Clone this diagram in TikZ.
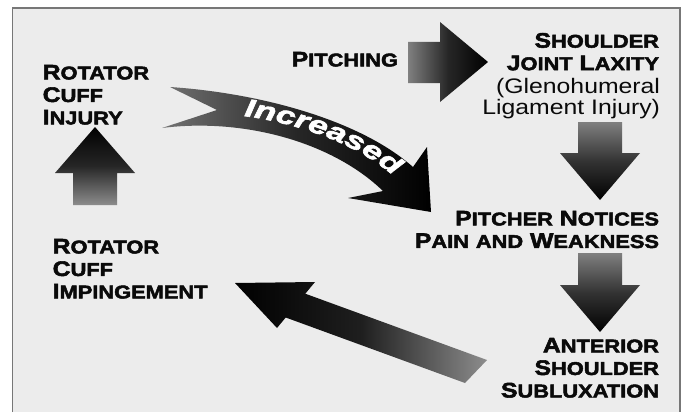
\documentclass[tikz,border=0pt]{standalone}
\usepackage{fontspec}
\usetikzlibrary{decorations.text}
\newfontfamily\blkfam[FakeBold=2.6,FakeStretch=1.18]{Liberation Sans Bold}
\newfontfamily\regfam[FakeStretch=1.18]{Liberation Sans}
\newfontfamily\incfam[FakeBold=2.4,FakeStretch=1.4]{Liberation Sans Bold Italic}
\newcommand\capsc[2]{{\fontsize{21}{22.5}\selectfont #1}{\fontsize{18.5}{22.5}\selectfont #2}}
\newcommand\incfont{\incfam\fontsize{25}{25}\selectfont}
\definecolor{bgc}{HTML}{ECECEC}
\definecolor{framec}{HTML}{777777}
\definecolor{inkc}{HTML}{0A0A0A}
\begin{document}
\begin{tikzpicture}[x=1pt,y=-1pt,
  lbl/.style={inner sep=0pt, outer sep=0pt, text=inkc, font=\blkfam\fontsize{21}{22.5}\selectfont},
  sub/.style={inner sep=0pt, outer sep=0pt, text=inkc, font=\regfam\fontsize{21}{21}\selectfont},
  blockv/.style={draw=none, top color=black!50, bottom color=black, middle color=black!80},
  blockup/.style={draw=none, top color=black, bottom color=black!45, middle color=black!85},
  blockh/.style={draw=none, left color=black!50, right color=black, middle color=black!85},
  blockd/.style={draw=none, left color=black, right color=black!45, middle color=black!88}]
\path[use as bounding box] (0,0) rectangle (684,412);
\fill[white] (0,0) rectangle (684,412);
\fill[bgc] (12.5,8) rectangle (680,412);
\draw[framec, line width=1.6pt] (12.5,412) -- (12.5,8) -- (680,8) -- (680,412);

% text blocks
\node[lbl, align=left, anchor=north west] (rci) at (42.7,65)
  {\capsc{R}{OTATOR}\\\capsc{C}{UFF}\\\capsc{I}{NJURY}};
\node[lbl, align=left, anchor=north west] (rcimp) at (52.7,239)
  {\capsc{R}{OTATOR}\\\capsc{C}{UFF}\\\capsc{I}{MPINGEMENT}};
\node[lbl, anchor=north east] (pitch) at (398,52) {\capsc{P}{ITCHING}};
\node[lbl, align=right, anchor=north east] (sjl) at (659,33)
  {\capsc{S}{HOULDER}\\\capsc{J}{OINT} \capsc{L}{AXITY}};
\node[sub, align=right, anchor=north east] (gleno) at (660,78)
  {(Glenohumeral\\Ligament Injury)};
\node[lbl, align=right, anchor=north east] (pnpw) at (659,211)
  {\capsc{P}{ITCHER} \capsc{N}{OTICES}\\\capsc{P}{AIN} \capsc{}{AND} \capsc{W}{EAKNESS}};
\node[lbl, align=right, anchor=north east] (ass) at (659,338)
  {\capsc{A}{NTERIOR}\\\capsc{S}{HOULDER}\\\capsc{S}{UBLUXATION}};

% up arrow: impingement -> injury
\path[blockup] (95,127) -- (135,173) -- (117,173) -- (117,205) -- (73,205) -- (73,173) -- (55,173) -- cycle;
% right arrow: pitching -> laxity
\path[blockh] (408,42) -- (440,42) -- (440,22) -- (488,62) -- (440,102) -- (440,83) -- (408,83) -- cycle;
% down arrows
\path[blockv] (578,122) -- (622,122) -- (622,153) -- (640,153) -- (600,200) -- (560,153) -- (578,153) -- cycle;
\path[blockv] (578,253) -- (622,253) -- (622,285) -- (640,285) -- (600,332) -- (560,285) -- (578,285) -- cycle;
% diagonal arrow: subluxation -> impingement
\path[blockd] (235,283) -- (315,282) -- (305.3,293.7) -- (487,360) -- (465,383) -- (285.7,317.5) -- (277,328) -- cycle;
% curved increased arrow
\path[draw=none, left color=black!55, right color=black, middle color=black!85]
  (170,87) .. controls (260,93) and (360,120) .. (413,167) -- (427,147) -- (431,212) -- (348,198) -- (383,191)
  .. controls (330,140) and (240,118) .. (162,128) -- (217,110) -- cycle;
\path[decorate, decoration={text along path, text color=white, text align=left,
  text={|\incfont|Increased}}]
  (244,116) .. controls (290,122) and (360,142) .. (400,182);
\end{tikzpicture}
\end{document}
